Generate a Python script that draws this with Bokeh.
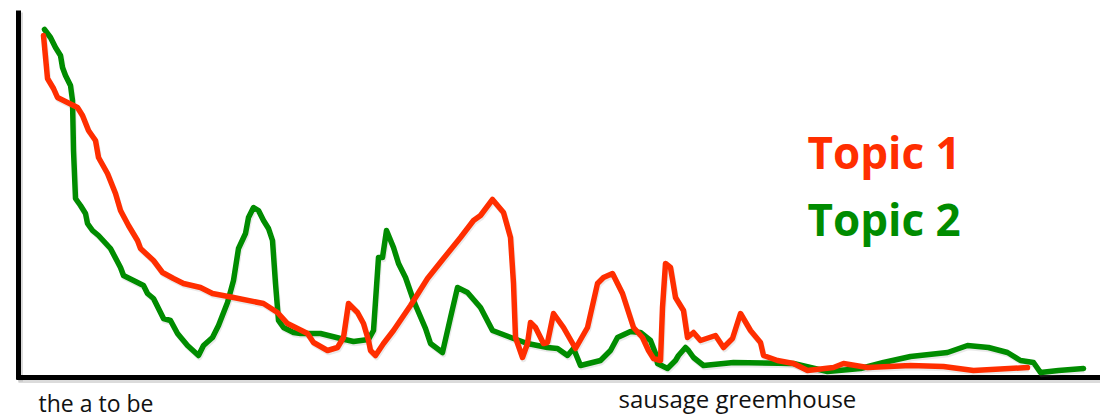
import numpy as np
from bokeh.plotting import figure
from bokeh.models import Range1d, Label, ColumnDataSource
from bokeh.embed import file_html
from bokeh.resources import INLINE

# word rank (x) and frequency (y)
topic1_x = [25, 29, 35, 39, 49, 59, 64, 70, 77, 80, 89, 97, 102, 110, 119, 122, 135, 144, 155, 165,
            182, 194, 215, 245, 259, 269, 289, 295, 309, 319, 325, 330, 339, 345, 350, 352, 357, 365,
            375, 392, 409, 425, 442, 455, 462, 474, 485, 492, 495, 497, 504, 509, 512, 517, 525, 529,
            535, 545, 557, 569, 579, 585, 594, 604, 615, 624, 630, 635, 642, 644, 647, 652, 657, 665,
            669, 675, 682, 697, 705, 714, 722, 732, 742, 745, 759, 775, 789, 815, 825, 849, 892, 925,
            955, 1009]
topic1_y = [342, 299, 289, 280, 275, 270, 262, 247, 237, 220, 204, 184, 167, 152, 137, 129, 117, 105,
            99, 94, 90, 84, 80, 74, 65, 54, 44, 35, 27, 30, 40, 74, 65, 54, 37, 27, 22, 34, 47, 72, 99,
            119, 140, 157, 162, 178, 165, 140, 94, 40, 20, 34, 55, 50, 34, 35, 64, 50, 29, 50, 94, 100,
            104, 84, 50, 40, 27, 19, 17, 70, 114, 110, 80, 67, 40, 45, 37, 42, 30, 39, 64, 47, 35, 22,
            17, 14, 7, 10, 14, 10, 12, 11, 7, 10]

topic2_x = [26, 32, 37, 42, 44, 47, 52, 54, 55, 57, 62, 67, 69, 74, 80, 92, 102, 105, 115, 125, 129,
            135, 142, 145, 152, 159, 169, 180, 185, 194, 200, 209, 215, 220, 227, 230, 235, 240, 245,
            250, 254, 257, 260, 265, 275, 282, 302, 322, 335, 350, 355, 360, 364, 368, 375, 380, 387,
            395, 407, 412, 424, 432, 439, 449, 462, 474, 495, 509, 529, 539, 549, 555, 562, 582, 592,
            599, 612, 622, 632, 637, 639, 649, 657, 660, 667, 670, 675, 685, 715, 775, 809, 842, 865,
            892, 929, 949, 970, 989, 1002, 1015, 1022, 1040, 1065, 1082]
topic2_y = [348, 340, 330, 322, 310, 302, 292, 277, 227, 179, 172, 164, 154, 147, 142, 129, 110, 102,
            97, 92, 84, 79, 65, 59, 57, 44, 32, 22, 32, 40, 52, 75, 97, 129, 144, 160, 170, 167, 157,
            149, 137, 94, 57, 50, 45, 44, 44, 39, 36, 38, 47, 120, 120, 147, 130, 114, 100, 77, 49, 34,
            25, 60, 90, 85, 70, 47, 39, 34, 30, 29, 22, 29, 12, 17, 27, 40, 46, 45, 37, 24, 14, 9, 17,
            22, 30, 27, 20, 12, 15, 14, 6, 9, 15, 21, 25, 32, 30, 25, 17, 15, 5, 7, 9]

labels_left = "the a  to  be"
labels_mid = "sausage greemhouse"
series_names = ["Topic 1", "Topic 2"]
RED = "#ff2e00"
GREEN = "#008c00"

p = figure(width=1100, height=418, output_backend="svg", toolbar_location=None,
           x_axis_type=None, y_axis_type=None, min_border=0,
           x_range=Range1d(-18, 1082), y_range=Range1d(-41, 377))
p.grid.visible = False
p.outline_line_color = None
p.background_fill_color = "white"

# axes as thick black lines with a soft shadow
p.line([2, 2], [-4, 365], line_color="#999999", line_alpha=0.35, line_width=5)
p.line([0, 1082], [-3, -3], line_color="#999999", line_alpha=0.35, line_width=5)
p.line([0, 0], [-2, 367], line_color="black", line_width=5)
p.line([-2, 1082], [0, 0], line_color="black", line_width=5)

s1 = ColumnDataSource(dict(x=topic1_x, y=topic1_y))
s2 = ColumnDataSource(dict(x=topic2_x, y=topic2_y))
# faint drop shadows of the series lines
p.line(np.array(topic2_x) + 1, np.array(topic2_y) - 2, line_color="#888888", line_alpha=0.18,
       line_width=5.5, line_join="round")
p.line(np.array(topic1_x) + 1, np.array(topic1_y) - 2, line_color="#888888", line_alpha=0.18,
       line_width=5.5, line_join="round")
p.line("x", "y", source=s2, line_color=GREEN, line_width=5.5, line_join="round", line_cap="round")
p.line("x", "y", source=s1, line_color=RED, line_width=5.5, line_join="round", line_cap="round")

p.add_layout(Label(x=789, y=226, text=series_names[0], text_color=RED, text_font="Open Sans",
                   text_font_style="bold", text_font_size="44px", text_baseline="alphabetic"))
p.add_layout(Label(x=789, y=159, text=series_names[1], text_color=GREEN, text_font="Open Sans",
                   text_font_style="bold", text_font_size="44px", text_baseline="alphabetic"))
p.add_layout(Label(x=20, y=-25, text=labels_left, text_color="#111111", text_font="Open Sans",
                   text_font_size="23px", text_baseline="alphabetic"))
p.add_layout(Label(x=600, y=-21, text=labels_mid, text_color="#111111", text_font="Open Sans",
                   text_font_size="24px", text_baseline="alphabetic"))

open("out.html", "w").write(file_html(p, INLINE))
